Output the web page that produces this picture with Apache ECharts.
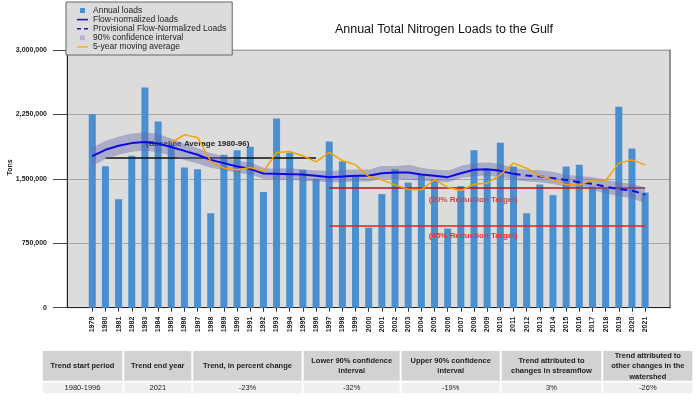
<!DOCTYPE html>
<html><head><meta charset="utf-8">
<script src="https://cdn.jsdelivr.net/npm/echarts@6/dist/echarts.min.js"></script>
<style>html,body{margin:0;padding:0;background:#fff}#c{width:700px;height:400px}</style>
</head><body><div id="c"></div>
<script>
const years = ['1979','1980','1981','1982','1983','1984','1985','1986','1987','1988','1989','1990','1991','1992','1993','1994','1995','1996','1997','1998','1999','2000','2001','2002','2003','2004','2005','2006','2007','2008','2009','2010','2011','2012','2013','2014','2015','2016','2017','2018','2019','2020','2021'];
const annualLoads = [2254000,1648000,1263000,1768000,2564000,2168000,1896000,1632000,1613000,1100000,1780000,1834000,1873000,1348000,2203000,1803000,1605000,1500000,1935000,1706000,1530000,932000,1322000,1613000,1457000,1547000,1488000,921000,1415000,1834000,1605000,1920000,1643000,1100000,1434000,1310000,1643000,1663000,1410000,1390000,2339000,1853000,1340000];
const flowNormalized = [1765000,1838000,1885000,1916000,1930000,1910000,1870000,1826000,1780000,1721000,1683000,1643000,1617000,1562000,1558000,1555000,1550000,1535000,1520000,1527000,1535000,1535000,1566000,1573000,1573000,1550000,1535000,1520000,1566000,1605000,1613000,1593000,1558000,null,null,null,null,null,null,null,null,null,null];
const provisionalFN = [null,null,null,null,null,null,null,null,null,null,null,null,null,null,null,null,null,null,null,null,null,null,null,null,null,null,null,null,null,null,null,null,1558000,1540000,1527000,1508000,1488000,1460000,1442000,1410000,1380000,1364000,1317000];
const ciLower = [1650000,1730000,1780000,1815000,1830000,1810000,1770000,1720000,1680000,1630000,1600000,1570000,1550000,1500000,1490000,1490000,1480000,1470000,1460000,1460000,1470000,1470000,1500000,1500000,1490000,1480000,1470000,1460000,1510000,1530000,1540000,1520000,1490000,1470000,1460000,1440000,1410000,1390000,1370000,1330000,1300000,1270000,1220000];
const ciUpper = [1860000,1940000,1990000,2025000,2040000,2020000,1970000,1910000,1860000,1800000,1760000,1710000,1690000,1630000,1620000,1620000,1610000,1600000,1590000,1600000,1610000,1610000,1650000,1650000,1660000,1630000,1610000,1600000,1650000,1680000,1690000,1670000,1630000,1610000,1600000,1580000,1550000,1530000,1520000,1490000,1460000,1440000,1400000];
const movingAvg5 = [null,null,null,null,null,null,1923000,2013000,1982000,1702000,1624000,1605000,1632000,1585000,1807000,1818000,1768000,1698000,1807000,1713000,1663000,1527000,1488000,1430000,1380000,1372000,1488000,1403000,1364000,1438000,1450000,1547000,1683000,1624000,1535000,1488000,1430000,1426000,1488000,1480000,1683000,1721000,1663000];
const baselineAvg = 1741000;
const target20 = 1392000;
const target45 = 958000;
const yTicks = [0, 750000, 1500000, 2250000, 3000000];
const tableHeaders = ['Trend start period','Trend end year','Trend, in percent change','Lower 90% confidence\ninterval','Upper 90% confidence\ninterval','Trend attributed to\nchanges in streamflow','Trend attributed to\nother changes in the\nwatershed'];
const tableRow = ['1980-1996','2021','-23%','-32%','-19%','3%','-26%'];

const FONT = '"Liberation Sans", Arial, sans-serif';
const colEdges = [41.7,123.3,192.3,302.7,400.7,500.7,602.3,693.3];
const tableEls = [];
for (let i = 0; i < tableHeaders.length; i++) {
  const x0 = colEdges[i], x1 = colEdges[i+1];
  const cx = (x0 + x1) / 2;
  tableEls.push({type:'rect', shape:{x:x0+1, y:351, width:x1-x0-2, height:29.7}, style:{fill:'#d2d2d2'}, silent:true});
  tableEls.push({type:'rect', shape:{x:x0+1, y:382.7, width:x1-x0-2, height:10.6}, style:{fill:'#efefef'}, silent:true});
  tableEls.push({type:'text', x:cx, y:366, style:{text:tableHeaders[i], font:'bold 7.5px ' + FONT, fill:'#222', align:'center', verticalAlign:'middle', lineHeight:10.5}, silent:true});
  tableEls.push({type:'text', x:cx, y:388, style:{text:tableRow[i], font:'7.5px ' + FONT, fill:'#222', align:'center', verticalAlign:'middle'}, silent:true});
}

const chart = echarts.init(document.getElementById('c'), null, {renderer:'canvas'});
const ciBand = ciUpper.map((u, i) => u - ciLower[i]);
const fmt = v => v.toLocaleString('en-US');

chart.setOption({
  animation: false,
  backgroundColor: '#ffffff',
  textStyle: {fontFamily: FONT},
  graphic: {elements: [
    {type:'text', x:444, y:29.5, style:{text:'Annual Total Nitrogen Loads to the Gulf', font:'12.5px ' + FONT, fill:'#111', align:'center', verticalAlign:'middle'}, silent:true},
    {type:'text', x:10, y:167.5, rotation:Math.PI/2, style:{text:'Tons', font:'bold 7px ' + FONT, fill:'#222', align:'center', verticalAlign:'middle'}, silent:true}
  ].concat(tableEls)},
  legend: {
    orient:'vertical', left:66, top:2,
    padding:[4,6,3.6,11],
    itemWidth:11, itemHeight:5, itemGap:0.1,
    backgroundColor:'#dcdcdc', borderColor:'#666', borderWidth:1,
    selectedMode:false,
    textStyle:{fontSize:8.5, color:'#222', lineHeight:8, fontFamily:FONT},
    data:[
      {name:'Annual loads', icon:'path://M0,0h5v5h-5z', itemStyle:{color:'#4a8fd0', borderWidth:0}},
      {name:'Flow-normalized loads', icon:'path://M0,0h11v1.6h-11z', itemStyle:{color:'#1c1ca0', borderWidth:0}},
      {name:'Provisional Flow-Normalized Loads', icon:'path://M0,0h4v1.6h-4zM7,0h4v1.6h-4z', itemStyle:{color:'#1c1ca0', borderWidth:0}},
      {name:'90% confidence interval', icon:'path://M0,0h4v4h-4z', itemStyle:{color:'#b4b4dc', borderWidth:0}},
      {name:'5-year moving average', icon:'path://M0,0h11v1.4h-11z', itemStyle:{color:'#f5b400', borderWidth:0}}
    ]
  },
  grid: [
    {left:67, top:50, width:603, height:257.7, show:true, backgroundColor:'#dcdcdc', borderColor:'#a8a8a8', borderWidth:1},
    {left:85.7, top:50, width:566, height:257.7}
  ],
  xAxis: [
    {gridIndex:0, type:'value', min:0, max:1, axisLine:{show:true, onZero:false, lineStyle:{color:'#222'}}, axisTick:{show:false}, axisLabel:{show:false}, splitLine:{show:false}},
    {gridIndex:1, type:'category', data:years, boundaryGap:true,
     axisLine:{show:false}, axisTick:{show:true, alignWithLabel:true, length:4, lineStyle:{color:'#333'}},
     axisLabel:{interval:0, rotate:90, fontSize:7, fontWeight:'bold', color:'#222', margin:9, fontFamily:FONT},
     splitLine:{show:false}}
  ],
  yAxis: [
    {gridIndex:0, type:'value', min:yTicks[0], max:yTicks[yTicks.length-1], interval:yTicks[1]-yTicks[0],
     axisLine:{show:true, lineStyle:{color:'#222'}},
     axisTick:{show:true, length:14, lineStyle:{color:'#444'}},
     axisLabel:{formatter:fmt, fontSize:7, fontWeight:'bold', color:'#222', margin:20, fontFamily:FONT},
     splitLine:{show:true, lineStyle:{color:'#a6a6a6'}}},
    {gridIndex:1, type:'value', min:yTicks[0], max:yTicks[yTicks.length-1], show:false, splitLine:{show:false}},
    {gridIndex:0, type:'value', position:'right', min:yTicks[0], max:yTicks[yTicks.length-1],
     axisLine:{show:true, lineStyle:{color:'#808080', width:1.5}}, axisTick:{show:false}, axisLabel:{show:false}, splitLine:{show:false}}
  ],
  series: [
    {name:'Annual loads', type:'bar', xAxisIndex:1, yAxisIndex:1, data:annualLoads, barWidth:7,
     itemStyle:{color:'#4a8fd0'}, z:2},
    {name:'ciLower', type:'line', xAxisIndex:1, yAxisIndex:1, data:ciLower, stack:'ci', symbol:'none', lineStyle:{opacity:0}, silent:true, z:3,
     markLine:{silent:true, symbol:['none','none'], z:3,
       data:[
         [{coord:['1980', baselineAvg], lineStyle:{color:'#111', width:1.5, type:'solid'},
           label:{show:true, position:'middle', formatter:'(Baseline Average 1980-96)', color:'#222', fontSize:8, fontWeight:'bold', distance:10, padding:[0,26,0,0], fontFamily:FONT}},
          {coord:['1996', baselineAvg]}],
         [{coord:['1997', target20], lineStyle:{color:'#b81414', width:1.5, type:'solid'},
           label:{show:true, position:'insideMiddleBottom', formatter:'(20% Reduction Target)', color:'#c04a4a', fontSize:8, fontWeight:'bold', distance:8, padding:[0,28,0,0], fontFamily:FONT}},
          {coord:['2021', target20]}],
         [{coord:['1997', target45], lineStyle:{color:'#f01c1c', width:1.5, type:'solid'},
           label:{show:true, position:'insideMiddleBottom', formatter:'(45% Reduction Target)', color:'#ff2a2a', fontSize:8, fontWeight:'bold', distance:6, padding:[0,28,0,0], fontFamily:FONT}},
          {coord:['2021', target45]}]
       ]}},
    {name:'90% confidence interval', type:'line', xAxisIndex:1, yAxisIndex:1, data:ciBand, stack:'ci', symbol:'none', smooth:0.3,
     lineStyle:{opacity:0}, areaStyle:{color:'rgba(100,100,175,0.42)', opacity:1}, itemStyle:{color:'#b4b4dc'}, silent:true, z:4},
    {name:'Flow-normalized loads', type:'line', xAxisIndex:1, yAxisIndex:1, data:flowNormalized, symbol:'none',
     lineStyle:{color:'#0a0ae6', width:2}, itemStyle:{color:'#0a0ae6'}, z:5},
    {name:'Provisional Flow-Normalized Loads', type:'line', xAxisIndex:1, yAxisIndex:1, data:provisionalFN, symbol:'none',
     lineStyle:{color:'#0a0ae6', width:2, type:[7,5]}, itemStyle:{color:'#0a0ae6'}, z:5},
    {name:'5-year moving average', type:'line', xAxisIndex:1, yAxisIndex:1, data:movingAvg5, symbol:'none',
     lineStyle:{color:'#f5a300', width:1.5}, itemStyle:{color:'#f5a300'}, z:6}
  ]
});
</script></body></html>
